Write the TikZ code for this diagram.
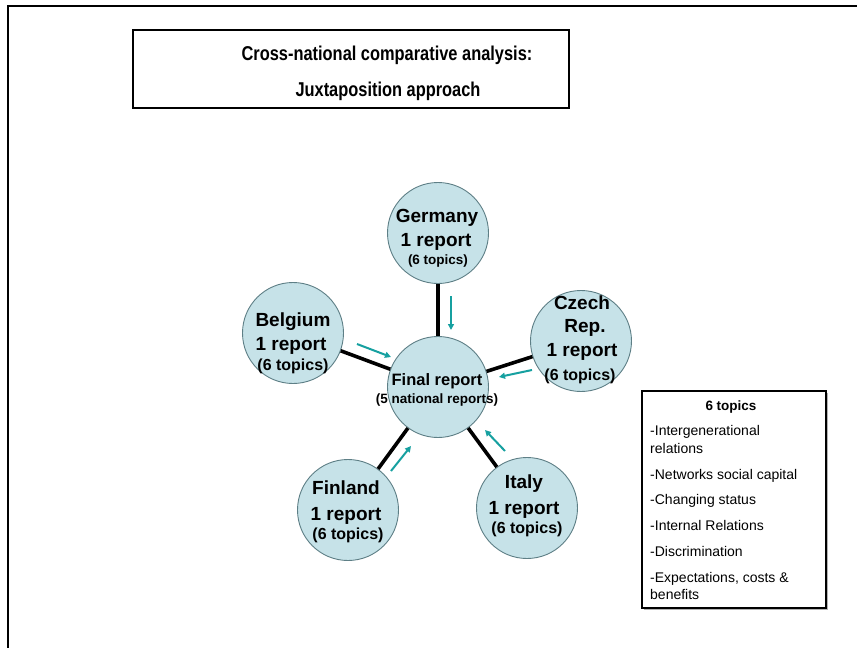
\documentclass[tikz,border=0pt]{standalone}
\usepackage{fontspec}
\setmainfont{Liberation Sans}
\newfontfamily\condfont[FakeStretch=0.82]{Liberation Sans}
\usetikzlibrary{arrows.meta}
\definecolor{circfill}{HTML}{C6E2E8}
\definecolor{circedge}{HTML}{5E7F86}
\definecolor{teal2}{HTML}{16A0A0}
\tikzset{
  country/.style={circle, draw=circedge, line width=0.9pt, fill=circfill, minimum size=101pt, inner sep=0pt},
  big/.style={font=\bfseries\fontsize{19}{19}\selectfont, anchor=base, inner sep=0pt},
  small/.style={font=\bfseries\fontsize{16}{16}\selectfont, anchor=base, inner sep=0pt},
  tiny/.style={font=\bfseries\fontsize{13.5}{13.5}\selectfont, anchor=base, inner sep=0pt},
  conn/.style={line width=3.6pt, draw=black},
  flow/.style={line width=2pt, teal2, -{Triangle[length=6pt,width=6pt]}},
  topic/.style={font=\fontsize{14}{14}\selectfont, anchor=base west, inner sep=0pt},
  titletext/.style={font=\condfont\bfseries\fontsize{20}{20}\selectfont, anchor=base, inner sep=0pt},
}
\begin{document}
\begin{tikzpicture}[x=1pt,y=-1pt]
\useasboundingbox (0,0) rectangle (857,648);
% frame
\draw[line width=2.2pt] (8,648) -- (8,6) -- (857,6);
% title box
\node[draw, line width=2.8pt, minimum width=436pt, minimum height=78pt, inner sep=0pt] (title) at (351,69) {};
\node[titletext] (t1) at (387,60) {Cross-national comparative analysis:};
\node[titletext] (t2) at (388,96) {Juxtaposition approach};

% circles
\node[country] (ger) at (438,233) {};
\node[country] (cze) at (581,341) {};
\node[country] (bel) at (293,333) {};
\node[country] (fin) at (348,510) {};
\node[country] (ita) at (527,508) {};
\node[country] (fr)  at (438,387) {};

% connectors
\draw[conn] (ger) -- (fr);
\draw[conn] (bel) -- (fr);
\draw[conn] (cze) -- (fr);
\draw[conn] (fin) -- (fr);
\draw[conn] (ita) -- (fr);

% teal arrows
\coordinate (ga1) at (451,296); \coordinate (ga2) at (451,330);
\coordinate (ba1) at (357,344); \coordinate (ba2) at (391,357);
\coordinate (ca1) at (532,370); \coordinate (ca2) at (499,377);
\coordinate (fa1) at (391,471); \coordinate (fa2) at (411,446);
\coordinate (ia1) at (505,451); \coordinate (ia2) at (485,430);
\draw[flow] (ga1) -- (ga2);
\draw[flow] (ba1) -- (ba2);
\draw[flow] (ca1) -- (ca2);
\draw[flow] (fa1) -- (fa2);
\draw[flow] (ia1) -- (ia2);

% texts
\node[big] (gl1) at (437,222) {Germany};
\node[big] (gl2) at (436,246) {1 report};
\node[tiny] (gl3) at (438,264) {(6 topics)};

\node[big] (bl1) at (293,326) {Belgium};
\node[big] (bl2) at (291,350) {1 report};
\node[small] (bl3) at (293,370) {(6 topics)};

\node[big] (cl1) at (582,309) {Czech};
\node[big] (cl2) at (585,332) {Rep.};
\node[big] (cl3) at (582,356) {1 report};
\node[small] (cl4) at (580,380) {(6 topics)};

\node[font=\bfseries\fontsize{16.5}{16.5}\selectfont, anchor=base, inner sep=0pt] (fl1) at (437,385) {Final report};
\node[font=\bfseries\fontsize{13.5}{13.5}\selectfont, anchor=base, inner sep=0pt] (fl2) at (437,403) {(5 national reports)};

\node[big] (fil1) at (346,494) {Finland};
\node[big] (fil2) at (346,520) {1 report};
\node[small] (fil3) at (348,539) {(6 topics)};

\node[big] (il1) at (524,488) {Italy};
\node[big] (il2) at (524,514) {1 report};
\node[small] (il3) at (527,533) {(6 topics)};

% topics box
\fill[gray!60] (644,393) rectangle (828,610);
\node[draw, fill=white, line width=1.8pt, minimum width=184pt, minimum height=217pt, inner sep=0pt, anchor=north west] (box) at (641,390) {};
\node[font=\bfseries\fontsize{13.5}{13.5}\selectfont, anchor=base, inner sep=0pt] (bt) at (731,410) {6 topics};
\node[topic] (p1) at (650,435) {-Intergenerational};
\node[topic] (p1b) at (650,453) {relations};
\node[topic] (p2) at (650,479) {-Networks social capital};
\node[topic] (p3) at (650,504) {-Changing status};
\node[topic] (p4) at (650,530) {-Internal Relations};
\node[topic] (p5) at (650,556) {-Discrimination};
\node[topic] (p6) at (650,582) {-Expectations, costs \&};
\node[topic] (p6b) at (650,599) {benefits};
\end{tikzpicture}
\end{document}
